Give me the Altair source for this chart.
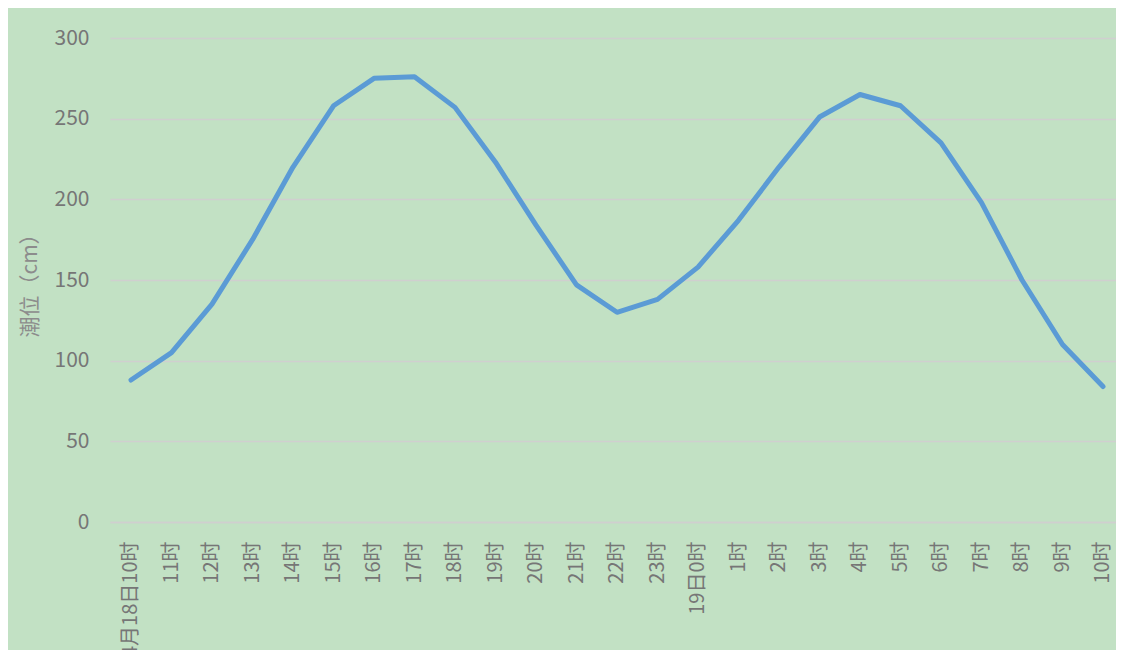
import json
import altair as alt
import pandas as pd

hours = ["4月18日10时", "11时", "12时", "13时", "14时", "15时", "16时", "17时", "18时",
         "19时", "20时", "21时", "22时", "23时", "19日0时", "1时", "2时", "3时", "4时",
         "5时", "6时", "7时", "8时", "9时", "10时"]
tide = [88, 105, 135, 175, 220, 258, 275, 276, 257, 223, 184, 147, 130, 138, 158,
        187, 220, 251, 265, 258, 235, 198, 150, 110, 84]
y_ticks = [0, 50, 100, 150, 200, 250, 300]

df = pd.DataFrame({"idx": list(range(len(hours))), "hour": hours, "tide": tide})

label_expr = json.dumps(hours, ensure_ascii=False) + "[round(datum.value)]"

FONT = "Noto Sans CJK SC"

chart = alt.Chart(df).mark_line(
    color="#5B9BD5", strokeWidth=5, strokeCap="round", strokeJoin="round"
).encode(
    x=alt.X("idx:Q",
            scale=alt.Scale(domain=[-0.5185, 24.321], nice=False, zero=False),
            axis=alt.Axis(values=list(range(len(hours))), labelExpr=label_expr,
                          labelAngle=270, labelAlign="right", labelBaseline="middle",
                          labelPadding=19, labelFontSize=20, labelColor="#767676",
                          labelFont=FONT, ticks=False, grid=False,
                          domainColor="#D0CFCF", domainWidth=1.5,
                          labelOverlap=False, labelFlush=False, title=None)),
    y=alt.Y("tide:Q",
            scale=alt.Scale(domain=[0, 300], nice=False),
            axis=alt.Axis(values=y_ticks, title="潮位（cm）", titleFont=FONT,
                          titleFontSize=21, titleFontWeight="normal",
                          titleColor="#8c8c8c", titlePadding=14,
                          labelFont=FONT, labelFontSize=21, labelColor="#767676",
                          labelPadding=21, ticks=False, domain=False,
                          gridColor="#D0CFCF", gridWidth=1.5)),
).properties(
    width=1006,
    height=484,
    background="#C2E1C4",
    padding={"left": 102, "top": 30, "right": 0, "bottom": 128},
    autosize=alt.AutoSizeParams(type="none"),
).configure_view(strokeWidth=0, fill="#C2E1C4")

chart.save("out.html", embed_options={"renderer": "svg", "actions": False})
